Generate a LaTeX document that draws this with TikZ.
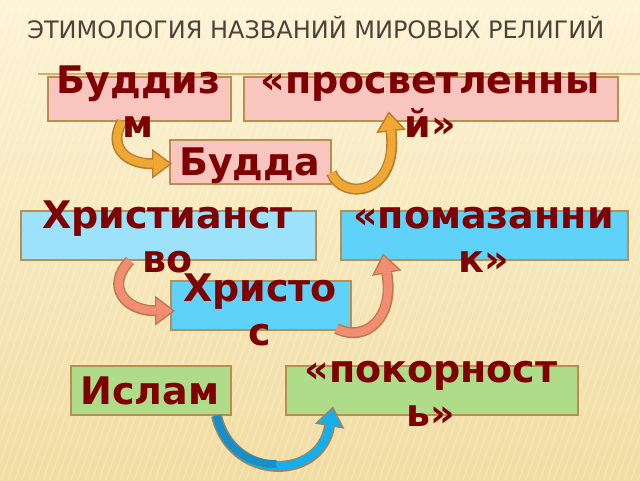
\documentclass[tikz,border=0pt]{standalone}
\usepackage{fontspec}
\setmainfont{DejaVu Sans}
\usetikzlibrary{arrows.meta,calc}
\definecolor{bgtop}{HTML}{FDF4D6}
\definecolor{bgbot}{HTML}{F1DCA2}
\definecolor{titlec}{HTML}{4D4238}
\definecolor{linec}{HTML}{D9AE6A}
\definecolor{bordc}{HTML}{B98E50}
\definecolor{pinkc}{HTML}{F9C6BF}
\definecolor{lbluec}{HTML}{9DE2FB}
\definecolor{bluec}{HTML}{5ED2F8}
\definecolor{greenc}{HTML}{AEDC88}
\definecolor{txtc}{HTML}{7E0000}
\definecolor{orangec}{HTML}{F0A832}
\definecolor{orangeb}{HTML}{B67C30}
\definecolor{salmonc}{HTML}{F38D72}
\definecolor{salmonb}{HTML}{BA7A4E}
\definecolor{bluear}{HTML}{14B0EE}
\definecolor{bluedk}{HTML}{1A8FC6}
\definecolor{bluearb}{HTML}{A08458}
\newcommand\fatarr[3]{%
  \draw[line width=8.25pt, draw=#1, -{Triangle[length=15pt,width=22.5pt,line width=0pt]}] #3;
  \draw[line width=6pt, draw=#2, shorten >=1.9pt, -{Triangle[length=12pt,width=18pt,line width=0pt]}] #3;}
\tikzset{
  box/.style={draw=bordc, line width=1.125pt, inner sep=0pt, anchor=north west},
  lbl/.style={text=txtc, inner sep=0pt, font=\bfseries\fontsize{28.5pt}{33pt}\selectfont, align=center},
}
\newcommand\tstrut{\rule{0pt}{26.25pt}}
\begin{document}
\begin{tikzpicture}[x=0.75pt,y=-0.75pt]
\useasboundingbox (0,0) rectangle (640,480);
\shade[top color=bgtop, bottom color=bgbot] (0,0) rectangle (640,480);
\begin{scope}
\clip (0,0) rectangle (640,480);
\foreach \i in {-300,-293,...,640}
  \draw[white, opacity=0.22, line width=1.1pt] (\i,480) -- (\i+170,0);
\end{scope}
% title
\node[anchor=base west, inner sep=0pt, text=titlec, font=\fontsize{18pt}{20pt}\selectfont] (title) at (27,38) {ЭТИМОЛОГИЯ НАЗВАНИЙ МИРОВЫХ РЕЛИГИЙ};
\coordinate (hl1) at (38,74);
\coordinate (hl2) at (640,74);
\draw[linec, line width=1.5pt] (hl1) -- (hl2);
% boxes
\node[box, fill=pinkc, minimum width=137.25pt, minimum height=33pt] (b1) at (47,76) {};
\node[box, fill=pinkc, minimum width=280.5pt, minimum height=33pt] (b2) at (243,76) {};
\node[box, fill=pinkc, minimum width=120.75pt, minimum height=33pt] (b3) at (169,139) {};
\node[box, fill=lbluec, minimum width=221.25pt, minimum height=36.75pt] (b4) at (20,210) {};
\node[box, fill=bluec, minimum width=215.25pt, minimum height=36.75pt] (b5) at (340,210) {};
\node[box, fill=bluec, minimum width=135pt, minimum height=36.75pt] (b6) at (170,280) {};
\node[box, fill=greenc, minimum width=120pt, minimum height=36.75pt] (b7) at (70,365) {};
\node[box, fill=greenc, minimum width=219pt, minimum height=36.75pt] (b8) at (285,365) {};
% arrows
\fatarr{orangeb}{orangec}{($(b1.south west)+(75,0)$) .. controls ($(b1.south west)+(61,25)$) and ($(b3.west)+(-44,2)$) .. ($(b3.west)+(3,2)$)}
\fatarr{orangeb}{orangec}{($(b3.east)+(0,11)$) .. controls ($(b3.east)+(10,39)$) and ($(b2.south)+(-32,75)$) .. ($(b2.south)+(-42,-10)$)}
\fatarr{salmonb}{salmonc}{($(b4.south west)+(110,0)$) .. controls ($(b4.south west)+(85,26)$) and ($(b6.west)+(-45,5.5)$) .. ($(b6.west)+(5,5.5)$)}
\fatarr{salmonb}{salmonc}{($(b6.south east)+(-15,-2)$) .. controls ($(b6.south east)+(15,13)$) and ($(b5.south west)+(55,56)$) .. ($(b5.south west)+(43,-7)$)}
\fatarr{bluearb}{bluear}{($(b7.south east)+(-15,0)$) .. controls ($(b7.south east)+(0,66)$) and ($(b8.south west)+(35,66)$) .. ($(b8.south west)+(48,-9)$)}
\draw[line width=6pt, draw=bluedk] ($(b7.south east)+(-15,0)$) .. controls ($(b7.south east)+(-7.5,33)$) and ($(b7.south east)+(18.75,49.5)$) .. ($(b7.south east)+(44.75,48.4)$);
% labels
\node[lbl, anchor=north] (t1) at (138.5,58) {\tstrut Буддиз\\м};
\node[lbl, anchor=north] (t2) at (430,58) {\tstrut «просветленны\\й»};
\node[lbl, anchor=base] (t3) at (249.5,175) {Будда};
\node[lbl, anchor=north] (t4) at (167.5,193) {\tstrut Христианст\\во};
\node[lbl, anchor=north] (t5) at (483.5,193) {\tstrut «помазанни\\к»};
\node[lbl, anchor=north] (t6) at (260,266) {\tstrut Христо\\с};
\node[lbl, anchor=base] (t7) at (150,404) {Ислам};
\node[lbl, anchor=north] (t8) at (431,347) {\tstrut «покорност\\ь»};
\end{tikzpicture}
\end{document}
